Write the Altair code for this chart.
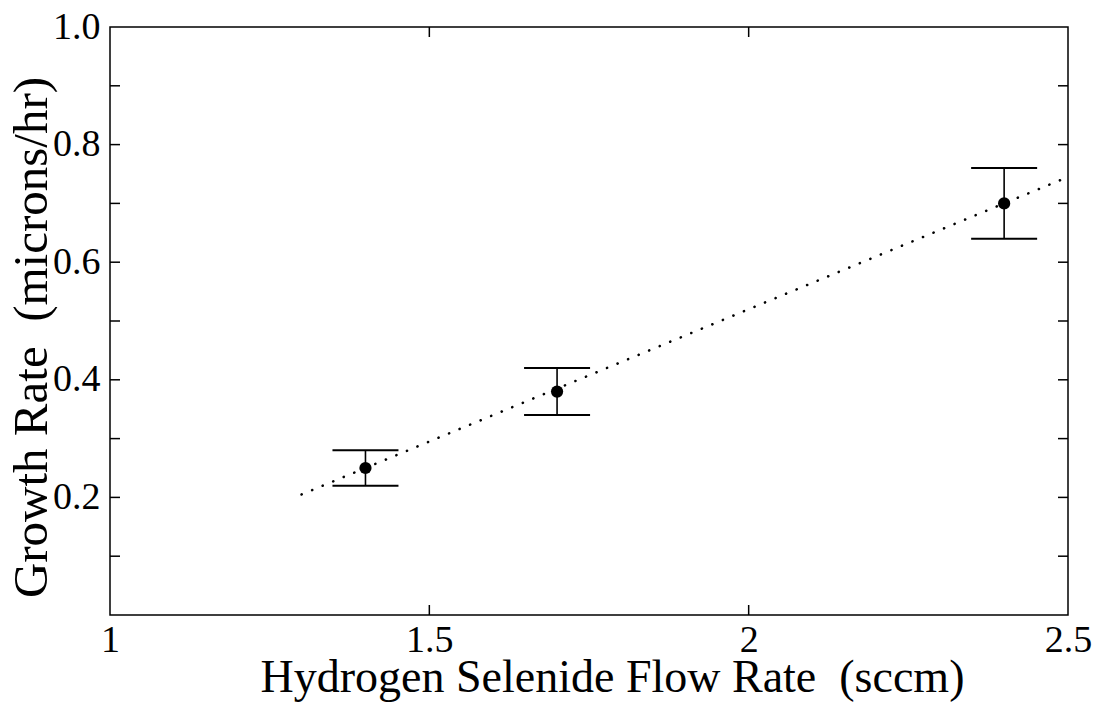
import altair as alt
import pandas as pd

# data
flow = [1.4, 1.7, 2.4]
rate = [0.25, 0.38, 0.70]
rate_lo = [0.22, 0.34, 0.64]
rate_hi = [0.28, 0.42, 0.76]

fit_x = [1.3, 2.5]
fit_y = [0.205, 0.745]

x_label_values = [1, 1.5, 2, 2.5]
x_inner_ticks = [1.5, 2.0]
y_label_values = [0.2, 0.4, 0.6, 0.8, 1.0]
y_inner_ticks = [0.1, 0.2, 0.3, 0.4, 0.5, 0.6, 0.7, 0.8, 0.9]

W, H = 958, 588
FONT = "Liberation Serif"
NB = "\u00a0"

pts = pd.DataFrame({"flow": flow, "rate": rate, "lo": rate_lo, "hi": rate_hi})
fit = pd.DataFrame({"flow": fit_x, "rate": fit_y})
xt = pd.DataFrame({"v": x_inner_ticks})
yt = pd.DataFrame({"v": y_inner_ticks})

xscale = alt.Scale(domain=[1, 2.5], nice=False, zero=False)
yscale = alt.Scale(domain=[0, 1], nice=False, zero=False)

xaxis = alt.Axis(
    values=x_label_values, format="~g", labelFlush=False, labelPadding=6,
    title="Hydrogen Selenide Flow Rate" + NB + NB + "(sccm)", titleFontSize=46,
    titleX=502, titleY=76,
)
yaxis = alt.Axis(
    values=y_label_values, format=".1f", labelFlush=False, labelPadding=10,
    title="Growth Rate" + NB + NB + "(microns/hr)", titleFontSize=49,
    titleAngle=270, titleX=-64, titleY=310,
)

X = alt.X("flow:Q", scale=xscale, axis=xaxis)
Y = alt.Y("rate:Q", scale=yscale, axis=yaxis)

# inward ticks on all four sides
ytick_left = alt.Chart(yt).mark_rule(color="black", strokeWidth=1.5).encode(
    y=alt.Y("v:Q", scale=yscale, axis=yaxis), x=alt.value(0), x2=alt.value(10))
ytick_right = alt.Chart(yt).mark_rule(color="black", strokeWidth=1.5).encode(
    y=alt.Y("v:Q", scale=yscale, axis=yaxis), x=alt.value(W - 10), x2=alt.value(W))
xtick_bottom = alt.Chart(xt).mark_rule(color="black", strokeWidth=1.5).encode(
    x=alt.X("v:Q", scale=xscale, axis=xaxis), y=alt.value(H - 10), y2=alt.value(H))
xtick_top = alt.Chart(xt).mark_rule(color="black", strokeWidth=1.5).encode(
    x=alt.X("v:Q", scale=xscale, axis=xaxis), y=alt.value(0), y2=alt.value(10))

fit_line = alt.Chart(fit).mark_line(
    color="black", strokeWidth=2.6, strokeDash=[0.1, 11.3], strokeCap="round"
).encode(x=X, y=Y)

err = alt.Chart(pts).mark_rule(color="black", strokeWidth=1.6).encode(
    x=X, y=alt.Y("lo:Q", scale=yscale, axis=yaxis), y2="hi:Q")
cap_lo = alt.Chart(pts).mark_tick(color="black", orient="horizontal", size=66, thickness=2, opacity=1).encode(
    x=X, y=alt.Y("lo:Q", scale=yscale, axis=yaxis))
cap_hi = alt.Chart(pts).mark_tick(color="black", orient="horizontal", size=66, thickness=2, opacity=1).encode(
    x=X, y=alt.Y("hi:Q", scale=yscale, axis=yaxis))
dots = alt.Chart(pts).mark_point(filled=True, color="black", size=150, opacity=1, shape="circle").encode(
    x=X, y=Y)

chart = alt.layer(
    fit_line, err, cap_lo, cap_hi, dots, ytick_left, ytick_right, xtick_bottom, xtick_top
).properties(
    width=W, height=H,
    autosize=alt.AutoSizeParams(type="none"),
    padding={"left": 110, "top": 27, "right": 26, "bottom": 88},
    background="white",
).configure_view(
    stroke="black", strokeWidth=1.5
).configure_axis(
    ticks=False, tickSize=0, domain=False, grid=False,
    labelFont=FONT, labelFontSize=38, labelColor="black",
    titleFont=FONT, titleFontWeight="normal", titleColor="black",
    titleAlign="center", titleBaseline="alphabetic",
)

chart.save("out.html", embed_options={"renderer": "svg", "actions": False})
